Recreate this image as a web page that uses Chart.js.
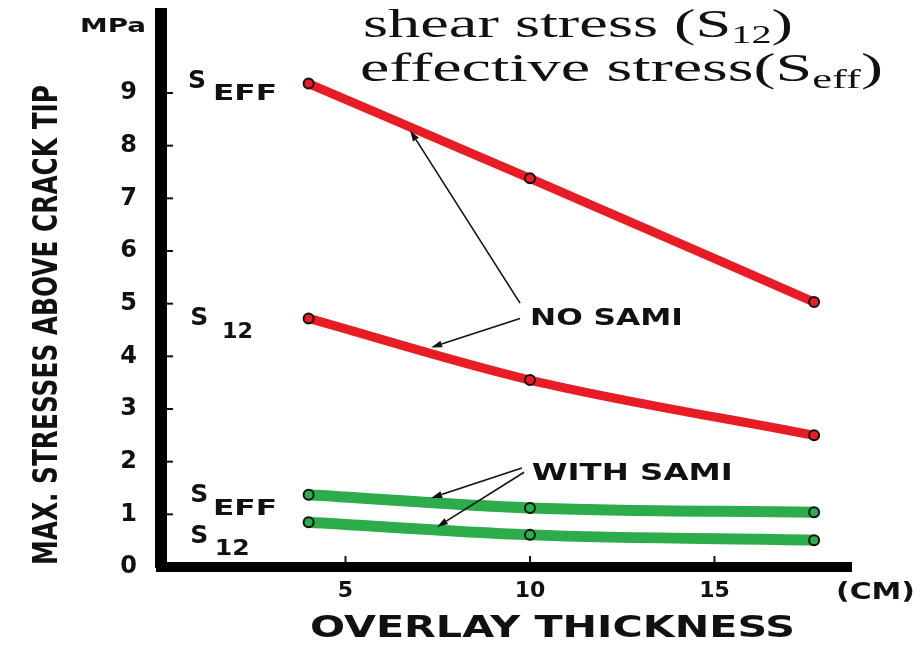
<!DOCTYPE html>
<html><head><meta charset="utf-8">
<script src="https://cdn.jsdelivr.net/npm/chart.js@4/dist/chart.umd.min.js"></script>
<style>html,body{margin:0;padding:0;background:#fff}#wrap{width:922px;height:645px;position:relative}</style>
</head><body><div id="wrap"><canvas id="c"></canvas></div>
<script>
// ---- data ----
const thickness   = [4, 10, 17.7];          // overlay thickness (cm)
const noSamiEff   = [9.18, 7.38, 5.03];     // S_EFF, no SAMI (MPa)
const noSamiS12   = [4.72, 3.55, 2.50];     // S_12, no SAMI
const withSamiEff = [1.37, 1.12, 1.04];     // S_EFF, with SAMI
const withSamiS12 = [0.85, 0.61, 0.51];     // S_12, with SAMI
const yTickValues = [0, 1, 2, 3, 4, 5, 6, 7, 8, 9];
const xTickValues = [5, 10, 15];
const xTitle = 'OVERLAY THICKNESS';
const yTitle = 'MAX. STRESSES ABOVE CRACK TIP';
// arrows: [fromX, fromY, toX, toY] in data units
const noSamiArrows   = [[9.73, 5.01, 6.75, 8.29], [9.73, 4.72, 7.32, 4.17]];
const withSamiArrows = [[9.78, 1.88, 7.32, 1.31], [9.84, 1.80, 7.48, 0.76]];

const RED = 'rgb(232,28,36)';
const GREEN = 'rgb(44,172,74)';
const INK = '#111';

function pts(ys){ return thickness.map((x,i)=>({x:x, y:ys[i]})); }

function fitParts(ctx, parts, x, y, w, color){
  ctx.save();
  let total = 0;
  parts.forEach(p=>{ ctx.font = p[1]; total += ctx.measureText(p[0]).width; });
  const s = w / total;
  ctx.translate(x, y);
  ctx.scale(s, 1);
  ctx.fillStyle = color || INK;
  ctx.textAlign = 'left';
  ctx.textBaseline = 'alphabetic';
  let cx = 0;
  parts.forEach(p=>{ ctx.font = p[1]; ctx.fillText(p[0], cx, p[2]||0); cx += ctx.measureText(p[0]).width; });
  ctx.restore();
}
function fitText(ctx, text, font, x, y, w, color){ fitParts(ctx, [[text, font, 0]], x, y, w, color); }

function arrow(ctx, x1, y1, x2, y2){
  ctx.save();
  ctx.strokeStyle = INK; ctx.fillStyle = INK; ctx.lineWidth = 1.6;
  const a = Math.atan2(y2-y1, x2-x1);
  const L = 11, W = 3.5;
  const bx = x2 - L*Math.cos(a), by = y2 - L*Math.sin(a);
  ctx.beginPath(); ctx.moveTo(x1, y1); ctx.lineTo(bx, by); ctx.stroke();
  ctx.beginPath();
  ctx.moveTo(x2, y2);
  ctx.lineTo(bx + W*Math.sin(a), by - W*Math.cos(a));
  ctx.lineTo(bx - W*Math.sin(a), by + W*Math.cos(a));
  ctx.closePath(); ctx.fill();
  ctx.restore();
}

const B = 'bold ';
const SANS = '"DejaVu Sans", sans-serif';
const COND = '"DejaVu Sans Condensed", "DejaVu Sans", sans-serif';
const SERIF = '"Liberation Serif", "DejaVu Serif", serif';

const decor = {
  id: 'decor',
  afterDraw(chart){
    const ctx = chart.ctx;
    const xs = chart.scales.x, ys = chart.scales.y;
    const X = v => xs.getPixelForValue(v), Y = v => ys.getPixelForValue(v);
    const ca = chart.chartArea;

    // small tick marks inside the axes
    ctx.save();
    ctx.strokeStyle = INK; ctx.lineWidth = 2;
    yTickValues.forEach(v=>{ if(v===0) return; ctx.beginPath(); ctx.moveTo(ca.left+5, Y(v)); ctx.lineTo(ca.left+12, Y(v)); ctx.stroke(); });
    xTickValues.forEach(v=>{ ctx.beginPath(); ctx.moveTo(X(v), ca.bottom-5); ctx.lineTo(X(v), ca.bottom-11); ctx.stroke(); });
    ctx.restore();

    // axis titles
    ctx.save();
    ctx.translate(45, 325); ctx.rotate(-Math.PI/2);
    fitText(ctx, yTitle, B+'34px '+COND, -240, 12, 480);
    ctx.restore();
    fitText(ctx, xTitle, B+'31px '+SANS, 310, 637, 485);
    fitText(ctx, '(CM)', B+'23px '+SANS, 836, 599, 79);
    fitText(ctx, 'MPa', B+'19px '+COND, 80, 32, 66);

    // top-right legend text
    fitParts(ctx, [['shear stress (S', '40px '+SERIF, 0], ['12', '25px '+SERIF, 6], [')', '40px '+SERIF, 0]], 363, 37, 430);
    fitParts(ctx, [['effective stress(S', '40px '+SERIF, 0], ['eff', '27px '+SERIF, 7], [')', '40px '+SERIF, 0]], 360, 81, 523);

    // series labels near the first points
    const labelS = (sx, sy, sub, subX, subY, subW) => {
      fitText(ctx, 'S', B+'24px '+SANS, X(sx), Y(sy), 18);
      fitText(ctx, sub, B+'22px '+SANS, X(subX), Y(subY), subW);
    };
    labelS(0.73, 9.09, 'EFF', 1.41, 8.86, 64);
    labelS(0.79, 4.59, '12', 1.65, 4.35, 31);
    labelS(0.79, 1.23, 'EFF', 1.41, 0.99, 64);
    labelS(0.79, 0.46, '12', 1.46, 0.23, 35);

    // group labels and arrows
    fitText(ctx, 'NO SAMI', B+'23px '+SANS, X(10.0), Y(4.59), 153);
    fitText(ctx, 'WITH SAMI', B+'23px '+SANS, X(10.05), Y(1.65), 201);
    noSamiArrows.concat(withSamiArrows).forEach(a => arrow(ctx, X(a[0]), Y(a[1]), X(a[2]), Y(a[3])));
  }
};

const lineDs = (ys, color, w) => ({
  data: pts(ys),
  borderColor: color,
  backgroundColor: color,
  borderWidth: w,
  pointRadius: 5,
  pointBorderWidth: 2,
  pointBorderColor: INK,
  pointBackgroundColor: color,
  cubicInterpolationMode: 'monotone',
  borderCapStyle: 'round',
  fill: false
});

new Chart(document.getElementById('c'), {
  type: 'line',
  data: {
    datasets: [
      lineDs(noSamiEff, RED, 9),
      lineDs(noSamiS12, RED, 9),
      lineDs(withSamiEff, GREEN, 11),
      lineDs(withSamiS12, GREEN, 11)
    ]
  },
  options: {
    responsive: true,
    maintainAspectRatio: false,
    animation: false,
    devicePixelRatio: 1,
    layout: { padding: { top: 14, right: 71, left: 0, bottom: 0 } },
    plugins: { legend: { display: false }, tooltip: { enabled: false } },
    scales: {
      x: {
        type: 'linear', min: 0, max: 18.7,
        afterFit: s => { s.height = 78; s.paddingLeft = 0; s.paddingRight = 0; },
        grid: { display: false },
        border: { display: true, color: '#000', width: 10 },
        ticks: {
          stepSize: 5, autoSkip: false, maxRotation: 0, padding: 3, color: INK,
          font: { family: '"DejaVu Sans", sans-serif', weight: 'bold', size: 22 },
          callback: v => xTickValues.includes(v) ? String(v) : null
        }
      },
      y: {
        type: 'linear', min: 0, max: 10.5,
        afterFit: s => { s.width = 161; s.paddingTop = 0; s.paddingBottom = 0; },
        grid: { display: false },
        border: { display: true, color: '#000', width: 12 },
        ticks: {
          stepSize: 1, autoSkip: false, padding: 16, color: INK,
          font: { family: '"DejaVu Sans", sans-serif', weight: 'bold', size: 24 },
          callback: v => yTickValues.includes(v) ? String(v) : null
        }
      }
    }
  },
  plugins: [decor]
});
</script></body></html>
